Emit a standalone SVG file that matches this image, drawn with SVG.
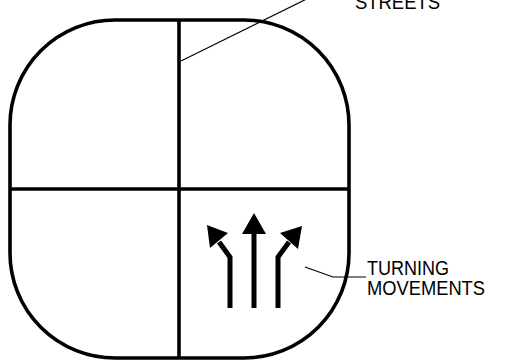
<svg xmlns="http://www.w3.org/2000/svg" width="506" height="361" viewBox="0 0 506 361">
<style>
.outline{fill:none;stroke:#000;stroke-width:3.6}
.shaft{fill:none;stroke:#000;stroke-width:5;stroke-linejoin:miter}
.head{fill:#000;stroke:none}
.leader{fill:none;stroke:#000;stroke-width:1.2}
.lbl{font-family:"Liberation Sans",Arial,sans-serif;font-size:20px;fill:#000}
</style>
<rect width="506" height="361" fill="#fff"/>
<g id="intersection">
<rect class="outline" x="10" y="20" width="339" height="338" rx="105" ry="105"/>
<line class="outline" x1="179" y1="20" x2="179" y2="358"/>
<line class="outline" x1="10" y1="189" x2="349" y2="189"/>
</g>
<g id="turning-arrows">
<polyline class="shaft" points="230,308 230,257 219,242"/>
<polygon class="head" points="207,225 228,233 210,248"/>
<line class="shaft" x1="254" y1="308" x2="254" y2="232"/>
<polygon class="head" points="254,213 242,234 266,234"/>
<polyline class="shaft" points="278,308 278,257 289,242"/>
<polygon class="head" points="302,226 280,233 298,249"/>
</g>
<g id="connectors">
<line class="leader" x1="181" y1="61" x2="335" y2="-15"/>
<polyline class="leader" points="305,267 333,277 366,277"/>
</g>
<g id="label-streets">
<text class="lbl" x="355" y="9" textLength="85" lengthAdjust="spacingAndGlyphs">STREETS</text>
</g>
<g id="label-turning">
<text class="lbl" x="367" y="275" textLength="82" lengthAdjust="spacingAndGlyphs">TURNING</text>
<text class="lbl" x="367" y="295" textLength="118" lengthAdjust="spacingAndGlyphs">MOVEMENTS</text>
</g>
</svg>
